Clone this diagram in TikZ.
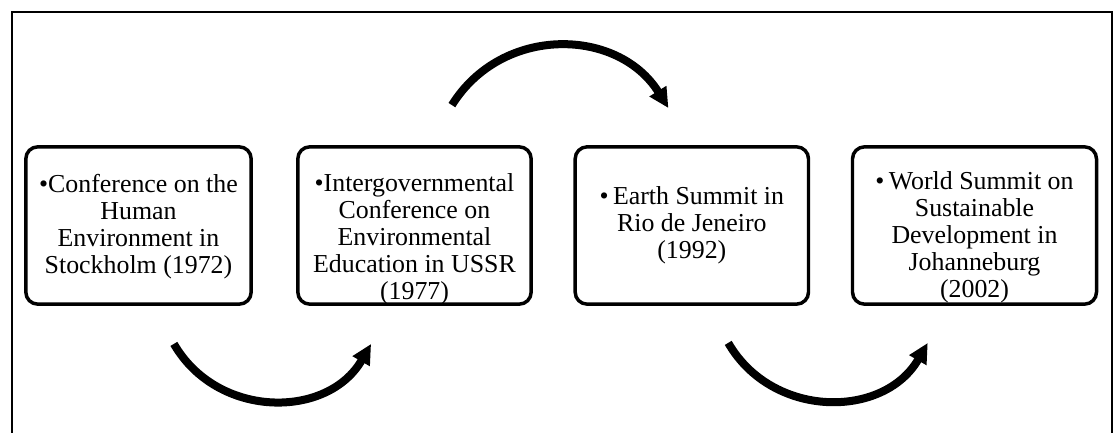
\documentclass[tikz,border=0pt]{standalone}
\usepackage{fontspec}
\setmainfont{Liberation Serif}
\usetikzlibrary{arrows.meta,calc}
\tikzstyle{block} = [draw, rectangle, rounded corners=9pt, line width=2.6pt, align=center, inner xsep=2pt, inner ysep=0pt, minimum height=118pt]
\tikzstyle{line} = [draw, line width=6pt, -{Triangle[length=15pt,width=14pt]}]
\tikzstyle{panel} = [draw, line width=2pt]

\begin{document}
\begin{tikzpicture}[x=0.75pt, y=0.75pt, font=\fontsize{19.4}{20.25}\selectfont]
        \useasboundingbox (0,0) rectangle (1116,432);
        \draw[panel] (12,-4) rectangle (1112,420);
        \node[block, minimum width=169pt, text height=94.7pt, text depth=23.3pt] (stockholm) at (138.5,206.5) {\textbullet Conference on the\\Human\\Environment in\\Stockholm (1972)};
        \node[block, minimum width=175pt, right of=stockholm, node distance=207pt, text height=114.8pt, text depth=3.2pt] (ussr) {\textbullet Intergovernmental\\Conference on\\Environmental\\Education in USSR\\(1977)};
        \node[block, minimum width=175pt, right of=ussr, node distance=208pt, text height=84pt, text depth=34pt] (rio) {\textbullet\,Earth Summit in\\Rio de Jeneiro\\(1992)};
        \node[block, minimum width=183pt, right of=rio, node distance=212pt, text height=113pt, text depth=5pt] (johannesburg) {\textbullet\,World Summit on\\Sustainable\\Development in\\Johanneburg\\(2002)};
        \coordinate (a1) at ($(stockholm.south east)+(-79,-38)$);
        \coordinate (b1) at ($(ussr.south west)+(75,-38)$);
        \coordinate (a2) at ($(ussr.north east)+(-81,40)$);
        \coordinate (b2) at ($(rio.north west)+(95,37)$);
        \coordinate (a3) at ($(rio.south east)+(-82,-37)$);
        \coordinate (b3) at ($(johannesburg.south west)+(77,-37)$);
        \path[line] (a1) to[out=-60, in=-120, looseness=1.13] (b1);
        \path[line] (a2) to[out=58, in=122, looseness=1.12] (b2);
        \path[line] (a3) to[out=-60, in=-120, looseness=1.13] (b3);
    \end{tikzpicture}
\end{document}
